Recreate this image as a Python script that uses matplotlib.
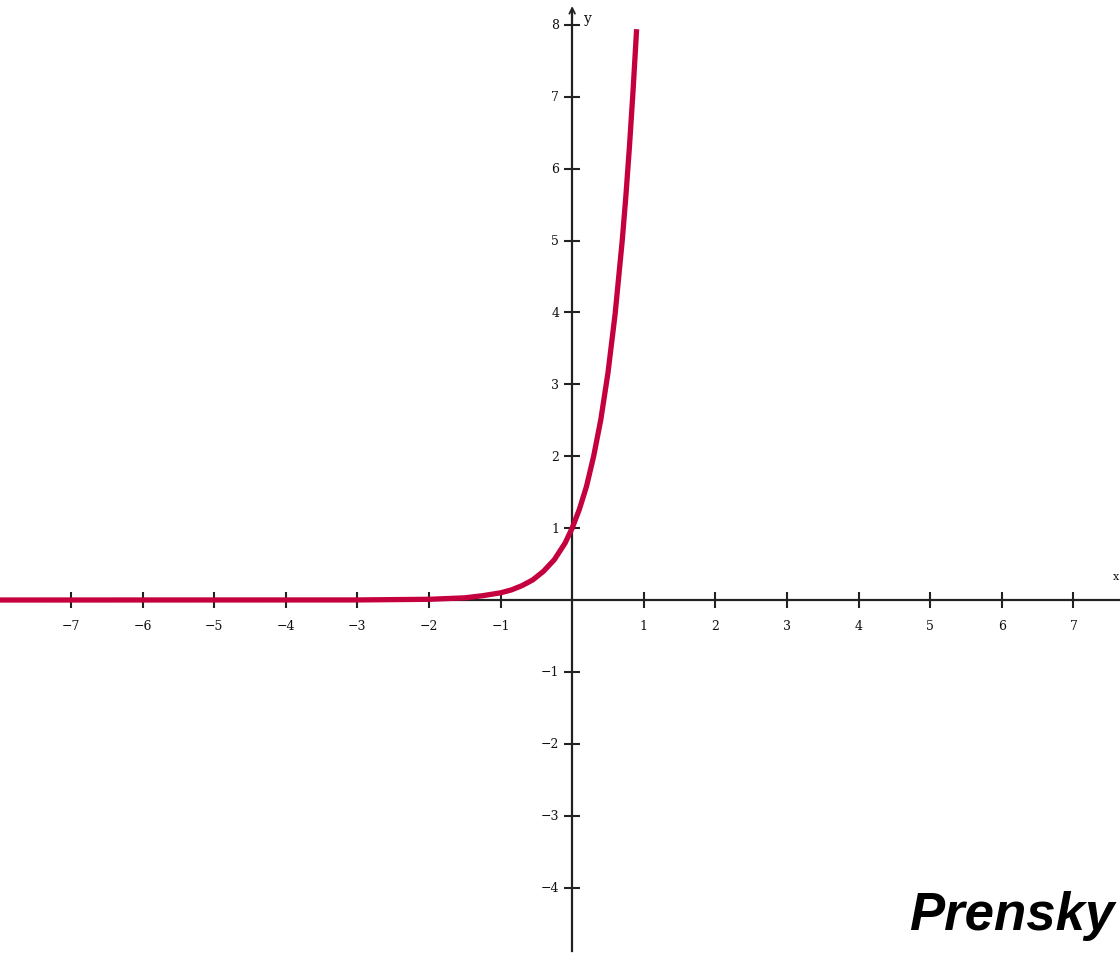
import matplotlib
matplotlib.use("Agg")
import matplotlib.pyplot as plt

# points
curve_x = [-8.0, -3.0, -2.0, -1.5, -1.25, -1.0, -0.85, -0.7, -0.55, -0.4, -0.25, -0.1, 0.0,
           0.1, 0.2, 0.3, 0.4, 0.5, 0.6, 0.7, 0.75, 0.8, 0.85, 0.9]
curve_y = [0.0, 0.001, 0.01, 0.03, 0.06, 0.1, 0.14, 0.2, 0.28, 0.4, 0.56, 0.79, 1.0,
           1.26, 1.58, 2.0, 2.51, 3.16, 3.98, 5.01, 5.62, 6.31, 7.08, 7.94]

x_ticks = [-7, -6, -5, -4, -3, -2, -1, 1, 2, 3, 4, 5, 6, 7]
y_ticks = [-4, -3, -2, -1, 1, 2, 3, 4, 5, 6, 7, 8]

axis_col = "#222222"
curve_col = "#C4003F"
tick_font = "DejaVu Serif"

fig = plt.figure(figsize=(11.2, 9.54), dpi=100)
ax = fig.add_axes([0, 0, 1, 1])
ax.set_xlim(-7.99, 7.65)
ax.set_ylim(-4.91, 8.36)
ax.axis("off")

# axes
ax.plot([-7.99, 7.65], [0, 0], color=axis_col, lw=1.6, zorder=2)
ax.plot([0, 0], [-4.88, 8.2], color=axis_col, lw=1.6, zorder=2)
ax.annotate("", xy=(0, 8.3), xytext=(0, 8.05),
            arrowprops=dict(arrowstyle="->", color=axis_col, lw=1.3))
ax.annotate("", xy=(7.68, 0), xytext=(7.45, 0),
            arrowprops=dict(arrowstyle="->", color=axis_col, lw=1.3))

# ticks
ax.plot(x_ticks, [0] * len(x_ticks), ls="none", marker="|", ms=12, mew=1.5, color=axis_col, zorder=2)
ax.plot([0] * len(y_ticks), y_ticks, ls="none", marker="_", ms=12, mew=1.5, color=axis_col, zorder=2)

for t in x_ticks:
    ax.text(t, -0.35, str(t).replace("-", "\u2212"), ha="center", va="center",
            fontsize=9, family=tick_font, color="#111111")
for t in y_ticks:
    ax.text(-0.18, t, str(t).replace("-", "\u2212"), ha="right", va="center",
            fontsize=9, family=tick_font, color="#111111")

ax.text(0.17, 8.1, "y", ha="left", va="center", fontsize=10, family=tick_font, color="#111111")
ax.text(7.64, 0.33, "x", ha="right", va="center", fontsize=8, family=tick_font, color="#111111")

# curve
ax.plot(curve_x, curve_y, color=curve_col, lw=3.8, solid_capstyle="butt", zorder=3)

ax.text(7.57, -4.58, "Prensky", ha="right", va="baseline", fontsize=38,
        family="Liberation Sans", fontweight="bold", fontstyle="italic", color="black")

fig.savefig("out.png", dpi=100)
